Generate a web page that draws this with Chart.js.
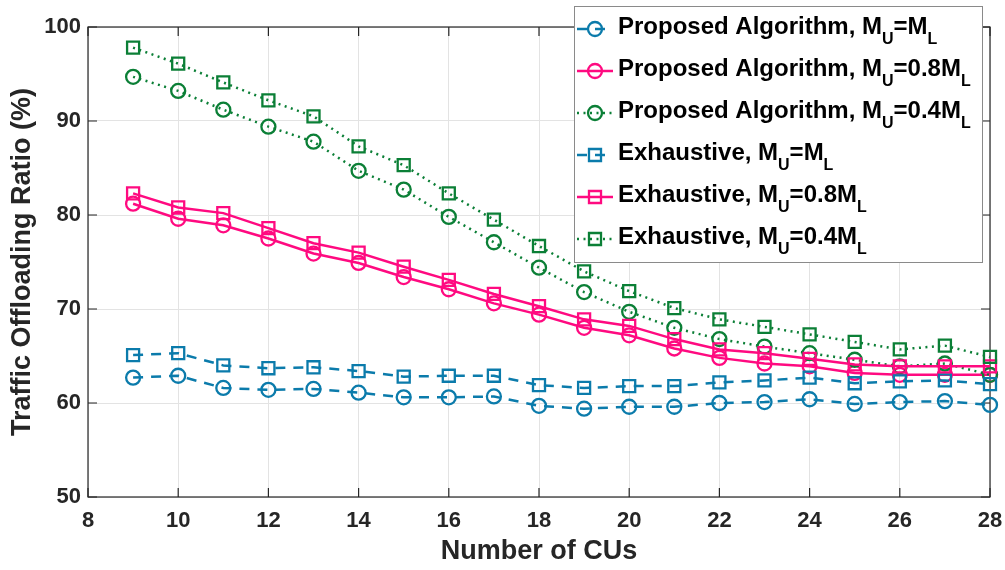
<!DOCTYPE html>
<html>
<head>
<meta charset="utf-8">
<script src="https://cdn.jsdelivr.net/npm/chart.js@4.4.1/dist/chart.umd.min.js"></script>
<style>
  body { margin: 0; background: #fff; }
</style>
</head>
<body>
<canvas id="graficoCUs" width="1005" height="570"></canvas>
<script>
// numero de CUs
var cus = [9, 10, 11, 12, 13, 14, 15, 16, 17, 18, 19, 20, 21, 22, 23, 24, 25, 26, 27, 28];

// algoritmo propuesto
var propMU1  = [62.7, 62.9, 61.6, 61.4, 61.5, 61.1, 60.6, 60.6, 60.7, 59.7, 59.4, 59.6, 59.6, 60.0, 60.1, 60.4, 59.9, 60.1, 60.2, 59.8];
var propMU08 = [81.2, 79.6, 78.9, 77.5, 75.9, 74.9, 73.4, 72.1, 70.6, 69.4, 68.0, 67.2, 65.8, 64.8, 64.2, 63.9, 63.2, 63.0, 63.0, 63.0];
var propMU04 = [94.7, 93.2, 91.2, 89.4, 87.8, 84.7, 82.7, 79.8, 77.1, 74.4, 71.8, 69.7, 68.0, 66.8, 66.0, 65.3, 64.6, 63.9, 64.2, 63.0];

// busqueda exhaustiva
var exhMU1  = [65.1, 65.3, 64.0, 63.7, 63.8, 63.4, 62.8, 62.9, 62.9, 61.9, 61.6, 61.8, 61.8, 62.2, 62.4, 62.7, 62.1, 62.3, 62.4, 62.0];
var exhMU08 = [82.3, 80.8, 80.2, 78.6, 77.0, 76.0, 74.5, 73.1, 71.6, 70.3, 68.9, 68.2, 66.8, 65.7, 65.3, 64.7, 64.1, 63.9, 63.9, 63.9];
var exhMU04 = [97.8, 96.1, 94.1, 92.2, 90.5, 87.3, 85.3, 82.3, 79.5, 76.7, 74.0, 71.9, 70.1, 68.9, 68.1, 67.3, 66.5, 65.7, 66.1, 64.9];

var etiquetas = [
  'Proposed Algorithm, M_U=M_L',
  'Proposed Algorithm, M_U=0.8M_L',
  'Proposed Algorithm, M_U=0.4M_L',
  'Exhaustive, M_U=M_L',
  'Exhaustive, M_U=0.8M_L',
  'Exhaustive, M_U=0.4M_L'
];

var fuente = "'Liberation Sans', Arial, Helvetica, sans-serif";
var azul = '#0b7bab';
var rosa = '#ff0a80';
var verde = '#0b7f36';

function serie(i, valores, color, dash, marca) {
  return {
    label: etiquetas[i],
    data: cus.map(function(x, k){ return { x: x, y: valores[k] }; }),
    borderColor: color,
    borderWidth: 2.5,
    borderDash: dash,
    pointStyle: marca,
    pointRadius: marca === 'rect' ? 8.5 : 7,
    pointBorderWidth: 2.3,
    pointBorderColor: color,
    pointBackgroundColor: 'rgba(0,0,0,0)',
    fill: false,
    tension: 0,
    clip: false,
    order: 6 - i
  };
}

// caja de los ejes con marcas hacia dentro
var marcoEjes = {
  id: 'marcoEjes',
  beforeDatasetsDraw: function(chart) {
    var ctx = chart.ctx, a = chart.chartArea;
    var sx = chart.scales.x, sy = chart.scales.y;
    ctx.save();
    ctx.strokeStyle = '#262626';
    ctx.lineWidth = 1.2;
    ctx.strokeRect(a.left, a.top, a.right - a.left, a.bottom - a.top);
    ctx.beginPath();
    sx.ticks.forEach(function(t){
      var px = sx.getPixelForValue(t.value);
      ctx.moveTo(px, a.bottom); ctx.lineTo(px, a.bottom - 9);
      ctx.moveTo(px, a.top); ctx.lineTo(px, a.top + 9);
    });
    sy.ticks.forEach(function(t){
      var py = sy.getPixelForValue(t.value);
      ctx.moveTo(a.left, py); ctx.lineTo(a.left + 9, py);
      ctx.moveTo(a.right, py); ctx.lineTo(a.right - 9, py);
    });
    ctx.stroke();
    ctx.restore();
  }
};

function textoConSub(ctx, texto, x, y) {
  var partes = texto.split(/_(\w)/);
  partes.forEach(function(p, k){
    if (k % 2 === 0) {
      ctx.font = 'bold 24px ' + fuente;
      ctx.fillText(p, x, y);
    } else {
      ctx.font = 'bold 16px ' + fuente;
      ctx.fillText(p, x, y + 10);
    }
    x += ctx.measureText(p).width;
  });
}

var leyenda = {
  id: 'leyenda',
  afterDraw: function(chart) {
    var ctx = chart.ctx;
    var x0 = 574, y0 = 6, w = 408, h = 256;
    ctx.save();
    ctx.fillStyle = '#fff';
    ctx.fillRect(x0, y0, w, h);
    ctx.strokeStyle = '#8a8a8a';
    ctx.lineWidth = 1;
    ctx.strokeRect(x0 + 0.5, y0 + 0.5, w, h);
    chart.data.datasets.forEach(function(ds, i){
      var cy = 29 + i * 42;
      ctx.strokeStyle = ds.borderColor;
      ctx.lineWidth = ds.borderWidth;
      ctx.setLineDash(ds.borderDash || []);
      ctx.beginPath();
      ctx.moveTo(577, cy); ctx.lineTo(613, cy);
      ctx.stroke();
      ctx.setLineDash([]);
      ctx.lineWidth = ds.pointBorderWidth;
      ctx.beginPath();
      if (ds.pointStyle === 'rect') {
        var s = ds.pointRadius * Math.SQRT1_2;
        ctx.rect(595 - s, cy - s, 2 * s, 2 * s);
      } else {
        ctx.arc(595, cy, ds.pointRadius, 0, Math.PI * 2);
      }
      ctx.stroke();
      ctx.fillStyle = '#000';
      ctx.textBaseline = 'alphabetic';
      textoConSub(ctx, ds.label, 618, cy + 5);
    });
    ctx.restore();
  }
};

var contexto = document.getElementById('graficoCUs').getContext('2d');
var myChart = new Chart(contexto, {
  type: 'line',
  data: {
    datasets: [
      serie(0, propMU1, azul, [10, 8], 'circle'),
      serie(1, propMU08, rosa, [], 'circle'),
      serie(2, propMU04, verde, [2, 4.5], 'circle'),
      serie(3, exhMU1, azul, [10, 8], 'rect'),
      serie(4, exhMU08, rosa, [], 'rect'),
      serie(5, exhMU04, verde, [2, 4.5], 'rect')
    ]
  },
  options: {
    responsive: false,
    animation: false,
    events: [],
    layout: { padding: { top: 27, right: 15, left: 0, bottom: 0 } },
    plugins: {
      legend: { display: false },
      tooltip: { enabled: false }
    },
    scales: {
      x: {
        type: 'linear',
        min: 8,
        max: 28,
        afterFit: function(scale){
          scale.height = 73;
          scale.paddingLeft = 0;
          scale.paddingRight = 0;
        },
        ticks: { stepSize: 2, padding: 11, color: '#262626', font: { family: fuente, size: 22, weight: 'bold' } },
        grid: { color: '#e3e3e3', drawTicks: false },
        border: { display: false },
        title: {
          display: true,
          text: 'Number of CUs',
          color: '#262626',
          font: { family: fuente, size: 27, weight: 'bold' },
          padding: { top: 0, bottom: 2 }
        }
      },
      y: {
        min: 50,
        max: 100,
        afterFit: function(scale){
          scale.width = 88;
          scale.paddingTop = 0;
          scale.paddingBottom = 0;
        },
        ticks: { stepSize: 10, padding: 7, color: '#262626', font: { family: fuente, size: 22, weight: 'bold' } },
        grid: { color: '#e3e3e3', drawTicks: false },
        border: { display: false },
        title: {
          display: true,
          text: 'Traffic Offloading Ratio (%)',
          color: '#262626',
          font: { family: fuente, size: 27, weight: 'bold' },
          padding: { top: 6, bottom: 0 }
        }
      }
    }
  },
  plugins: [marcoEjes, leyenda]
});
</script>
</body>
</html>
